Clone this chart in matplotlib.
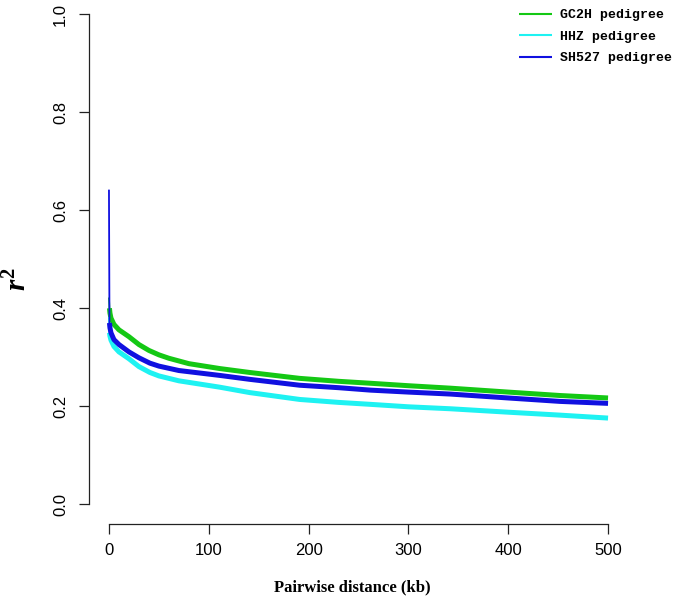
import matplotlib
matplotlib.use("Agg")
import matplotlib.pyplot as plt

# values (distance in kb, mean r^2)
dist_gc2h = [0, 0.5, 1, 2, 5, 10, 20, 30, 40, 50, 60, 80, 111, 141, 191, 230, 262, 300, 342, 400, 452, 500]
r2_gc2h = [0.42, 0.40, 0.39, 0.38, 0.367, 0.356, 0.342, 0.326, 0.314, 0.305, 0.298, 0.287, 0.277, 0.269,
           0.257, 0.251, 0.247, 0.242, 0.237, 0.229, 0.222, 0.217]

dist_hhz = [0, 0.5, 1, 2, 5, 10, 20, 30, 41, 50, 70, 111, 141, 191, 230, 262, 300, 342, 400, 452, 500]
r2_hhz = [0.38, 0.35, 0.343, 0.335, 0.322, 0.311, 0.297, 0.281, 0.269, 0.262, 0.252, 0.239, 0.228,
          0.214, 0.208, 0.204, 0.199, 0.195, 0.188, 0.182, 0.176]

dist_sh527 = [0, 0.5, 1, 2, 5, 10, 20, 30, 41, 50, 70, 111, 141, 191, 230, 262, 300, 342, 400, 452, 500]
r2_sh527 = [0.64, 0.37, 0.36, 0.35, 0.336, 0.326, 0.311, 0.299, 0.288, 0.282, 0.273, 0.263, 0.255,
            0.243, 0.238, 0.233, 0.229, 0.225, 0.217, 0.210, 0.206]

labels = ["GC2H pedigree", "HHZ pedigree", "SH527 pedigree"]
colors = ["#14c814", "#1ef2f2", "#1010e0"]

plt.rcParams["font.family"] = "Liberation Sans"
plt.rcParams["mathtext.fontset"] = "custom"
plt.rcParams["mathtext.it"] = "Liberation Serif:bold:italic"
plt.rcParams["mathtext.rm"] = "Liberation Serif:bold"

fig = plt.figure(figsize=(6.75, 6.01), dpi=100)
ax = fig.add_axes([89 / 675, 77 / 601, 539 / 675, 529.6 / 601])

handles = []
for xs, ys, c in [(dist_gc2h, r2_gc2h, colors[0]),
                  (dist_hhz, r2_hhz, colors[1]),
                  (dist_sh527, r2_sh527, colors[2])]:
    # sharp spike at the first bin is a thin line, the rest a dense noisy band
    ax.plot(xs[:2], ys[:2], color=c, lw=1.3)
    h, = ax.plot(xs[1:], ys[1:], color=c, lw=3.6, solid_capstyle="butt")
    handles.append(h)

ax.set_xlim(-20, 520)
ax.set_ylim(-0.04, 1.04)
for s in ["top", "right"]:
    ax.spines[s].set_visible(False)
ax.spines["left"].set_bounds(0, 1)
ax.spines["bottom"].set_bounds(0, 500)
for s in ["left", "bottom"]:
    ax.spines[s].set_linewidth(0.9)
    ax.spines[s].set_color("#222222")

ax.set_xticks([0, 100, 200, 300, 400, 500])
ax.set_yticks([0, 0.2, 0.4, 0.6, 0.8, 1.0])
ax.set_yticklabels(["0.0", "0.2", "0.4", "0.6", "0.8", "1.0"], rotation=90, va="center")
ax.tick_params(axis="both", length=7, width=0.9, color="#222222", labelsize=12)
ax.tick_params(axis="x", pad=7)
ax.tick_params(axis="y", pad=8)

fig.text(352 / 675, 1 - 587 / 601, "Pairwise distance (kb)", ha="center", va="center",
         family="Liberation Serif", weight="bold", fontsize=12)
fig.text(18 / 675, 1 - 279 / 601, r"$r^{2}$", ha="center", va="center", rotation=90,
         fontsize=21)

leg = fig.legend(handles, labels, loc="upper left",
                 bbox_to_anchor=(519 / 675, 1 - 9 / 601), frameon=False,
                 prop={"family": "Liberation Mono", "weight": "bold", "size": 9.5},
                 handlelength=2.5, handletextpad=0.6, labelspacing=0.7,
                 borderaxespad=0, borderpad=0)
for h in leg.legend_handles:
    h.set_linewidth(1.5)

fig.savefig("out.png", dpi=100)
